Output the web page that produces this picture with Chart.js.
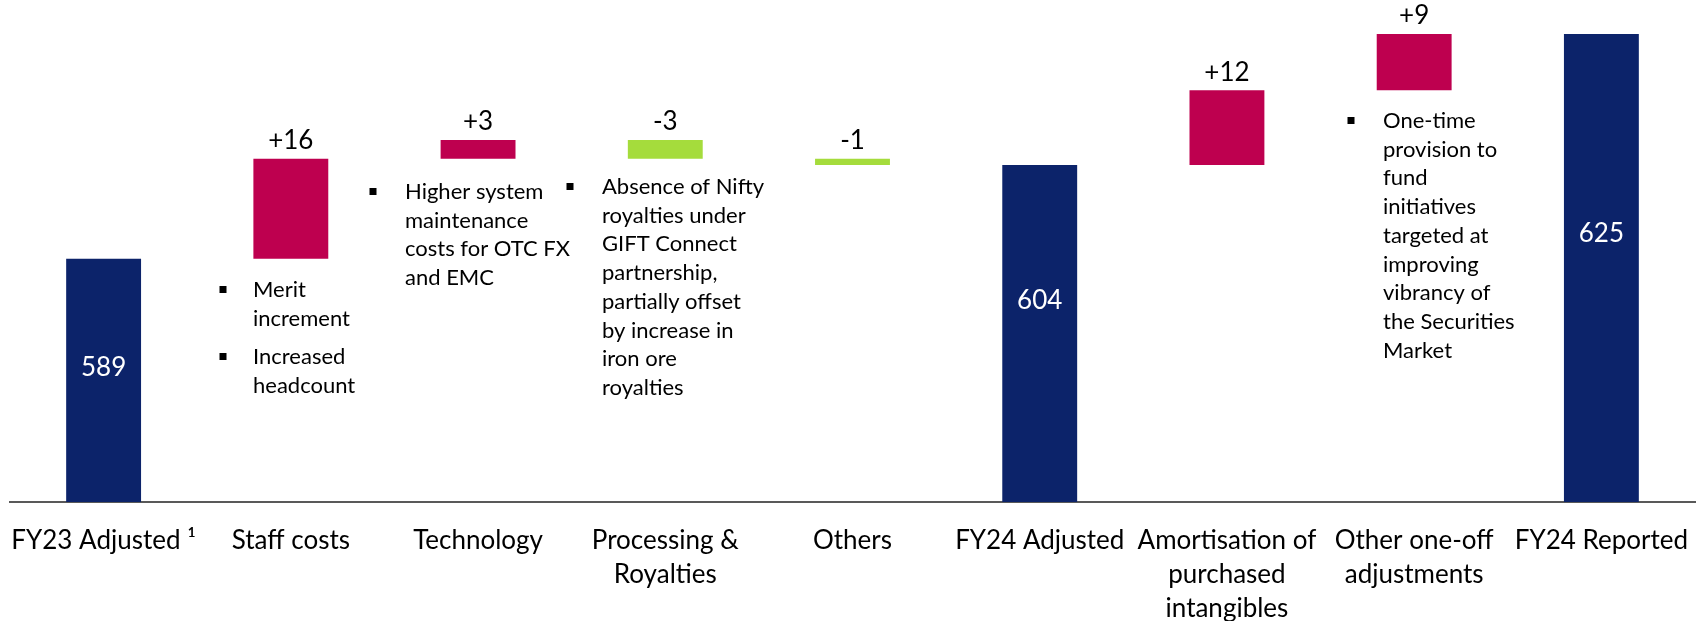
<!DOCTYPE html>
<html>
<head>
<meta charset="utf-8">
<title>Operating expenses bridge FY23 to FY24</title>
<script src="https://cdn.jsdelivr.net/npm/chart.js@4.4.1/dist/chart.umd.min.js"></script>
<style>
    html, body { margin: 0; padding: 0; background: #ffffff; }
    .chart-wrap { position: relative; width: 1703px; height: 621px; }
</style>
</head>
<body>
<div class="chart-wrap"><canvas id="bridgeChart"></canvas></div>
<script>
// --- DATA ---
const categories = [
    ['FY23 Adjusted \u00B9'],
    ['Staff costs'],
    ['Technology'],
    ['Processing &', 'Royalties'],
    ['Others'],
    ['FY24 Adjusted'],
    ['Amortisation of', 'purchased', 'intangibles'],
    ['Other one-off', 'adjustments'],
    ['FY24 Reported']
];
const openingTotal = 589;
const adjustedMoves = [16, 3, -3, -1];
const adjustedTotal = 604;
const reportedMoves = [12, 9];
const reportedTotal = 625;
const axisMin = 550;
const axisMax = 625;

// --- COLOURS / LAYOUT ---
const NAVY = '#0c236a';
const RISE = '#be004f';
const FALL = '#a5dc3c';
const FONT = 'Lato, Carlito, "Open Sans", sans-serif';

// y pixel of the white value written inside each total bar
const totalLabelY = { 0: 368, 5: 301, 8: 234 };

// bullet notes (bullet x, text x, first line y)
const LINE_STEP = 28.7;
const noteBlocks = [
    { bx: 223, tx: 253, y: 290, lines: ['Merit', 'increment'] },
    { bx: 223, tx: 253, y: 357, lines: ['Increased', 'headcount'] },
    { bx: 373, tx: 405, y: 192, lines: ['Higher system', 'maintenance', 'costs for OTC FX', 'and EMC'] },
    { bx: 570, tx: 602, y: 187, lines: ['Absence of Nifty', 'royalties under', 'GIFT Connect', 'partnership,', 'partially offset', 'by increase in', 'iron ore', 'royalties'] },
    { bx: 1351, tx: 1383, y: 121, lines: ['One-time', 'provision to', 'fund', 'initiatives', 'targeted at', 'improving', 'vibrancy of', 'the Securities', 'Market'] }
];

// --- BUILD FLOATING BARS ---
const floating = [];
const kinds = [];
let running = openingTotal;
floating.push([axisMin, openingTotal]);
kinds.push('total');
adjustedMoves.forEach(d => {
    floating.push([running, running + d]);
    kinds.push(d >= 0 ? 'up' : 'down');
    running += d;
});
floating.push([axisMin, adjustedTotal]);
kinds.push('total');
running = adjustedTotal;
reportedMoves.forEach(d => {
    floating.push([running, running + d]);
    kinds.push(d >= 0 ? 'up' : 'down');
    running += d;
});
floating.push([axisMin, reportedTotal]);
kinds.push('total');

const barColors = kinds.map(k => k === 'total' ? NAVY : (k === 'up' ? RISE : FALL));

// --- LABELS PLUGIN ---
const bridgeLabels = {
    id: 'bridgeLabels',
    afterDatasetsDraw(chart) {
        const { ctx } = chart;
        const meta = chart.getDatasetMeta(0);
        ctx.save();
        ctx.textAlign = 'center';
        ctx.textBaseline = 'middle';
        ctx.font = '26px ' + FONT;

        meta.data.forEach((bar, i) => {
            const [lo, hi] = floating[i];
            if (kinds[i] === 'total') {
                ctx.fillStyle = '#ffffff';
                ctx.fillText(String(hi), bar.x, totalLabelY[i]);
            } else {
                const d = hi - lo;
                const top = Math.min(bar.y, bar.base);
                ctx.fillStyle = '#000000';
                ctx.fillText((d > 0 ? '+' : '') + d, bar.x, top - 18);
            }
        });

        // bullet notes
        ctx.textAlign = 'left';
        ctx.font = '22px ' + FONT;
        ctx.fillStyle = '#000000';
        noteBlocks.forEach(block => {
            ctx.fillRect(block.bx - 3.5, block.y - 4, 7, 7);
            block.lines.forEach((line, j) => {
                ctx.fillText(line, block.tx, block.y + j * LINE_STEP);
            });
        });
        ctx.restore();
    }
};

document.addEventListener('DOMContentLoaded', () => {
    const ctx = document.getElementById('bridgeChart');
    new Chart(ctx, {
        type: 'bar',
        data: {
            labels: categories,
            datasets: [{
                data: floating,
                backgroundColor: barColors,
                borderWidth: 0,
                barPercentage: 0.4,
                categoryPercentage: 1
            }]
        },
        options: {
            responsive: true,
            maintainAspectRatio: false,
            animation: false,
            layout: { padding: { top: 34, left: 10, right: 8, bottom: 0 } },
            scales: {
                y: { display: false, min: axisMin, max: axisMax },
                x: {
                    grid: { display: false, drawTicks: false },
                    border: { display: true, color: '#595959', width: 2 },
                    ticks: {
                        color: '#000000',
                        font: { family: FONT, size: 26, lineHeight: '34px' },
                        padding: 22,
                        maxRotation: 0,
                        autoSkip: false
                    },
                    afterFit: (axis) => {
                        axis.height = 119;
                        axis.paddingLeft = 0;
                        axis.paddingRight = 0;
                    }
                }
            },
            plugins: {
                legend: { display: false },
                tooltip: { enabled: false }
            }
        },
        plugins: [bridgeLabels]
    });
});
</script>
</body>
</html>
